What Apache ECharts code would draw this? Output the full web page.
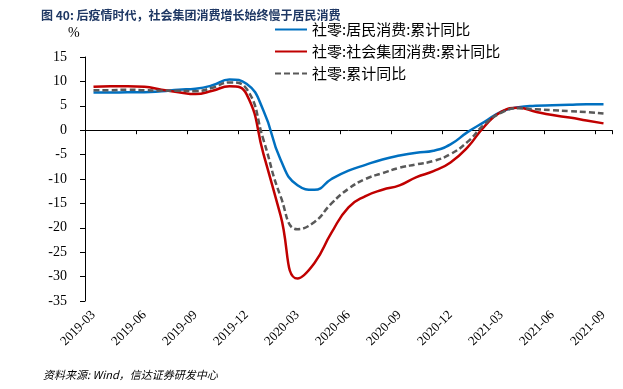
<!DOCTYPE html>
<html>
<head>
<meta charset="utf-8">
<script src="https://cdn.jsdelivr.net/npm/echarts@6/dist/echarts.min.js"></script>
<style>html,body{margin:0;padding:0;background:#fff;}#c{width:623px;height:389px;}</style>
</head>
<body>
<div id="c"></div>
<script>
const months = ['2019-03','2019-04','2019-05','2019-06','2019-07','2019-08','2019-09','2019-10','2019-11','2019-12',
  '2020-01','2020-02','2020-03','2020-04','2020-05','2020-06','2020-07','2020-08','2020-09','2020-10','2020-11','2020-12',
  '2021-01','2021-02','2021-03','2021-04','2021-05','2021-06','2021-07','2021-08','2021-09'];
const resident = [7.7,7.7,7.8,7.8,8.0,8.3,8.5,9.2,10.4,9.5,
  4.0,-6.0,-11.3,-12.2,-10.0,-8.3,-7.1,-6.0,-5.2,-4.6,-4.2,-2.9,
  -0.4,1.7,3.8,4.7,5.0,5.1,5.2,5.3,5.3];
const group = [8.9,9.0,9.0,8.9,8.3,7.8,7.4,8.1,9.0,7.4,
  -4.9,-17.4,-30.4,-27.2,-21.0,-15.8,-13.5,-12.2,-11.3,-9.6,-8.4,-6.6,
  -3.5,0.8,3.8,4.6,3.8,3.1,2.6,2.0,1.4];
const total = [8.2,8.2,8.3,8.2,8.1,8.1,8.0,8.7,9.8,8.5,
  -2.0,-13.5,-20.3,-18.8,-15.0,-12.0,-10.0,-8.8,-7.7,-7.0,-6.3,-4.9,
  -2.4,1.2,3.6,4.5,4.3,4.1,3.9,3.7,3.4];
const seriesNames = ['社零:居民消费:累计同比','社零:社会集团消费:累计同比','社零:累计同比'];

const chart = echarts.init(document.getElementById('c'), null, {renderer:'canvas'});
const serif = 'Liberation Serif, Times New Roman, serif';
const cjk = 'Noto Sans CJK SC, sans-serif';
chart.setOption({
  animation: false,
  backgroundColor: '#fff',
  title: {
    text: '图 40: 后疫情时代，社会集团消费增长始终慢于居民消费',
    left: 36, top: 4,
    textStyle: {fontFamily: cjk, fontSize: 12, fontWeight: 'bold', color: '#1F3864'}
  },
  graphic: [
    {type:'text', left: 68, top: 26, style:{text:'%', font:'14px ' + serif, fill:'#000'}},
    {type:'text', left: 43, top: 369, style:{text:'资料来源: Wind，信达证券研发中心', font:'italic 11px ' + cjk, fill:'#000'}}
  ],
  legend: {
    orient: 'vertical', left: 274, top: 22, padding: 0, itemWidth: 32, itemHeight: 14, itemGap: 7,
    itemStyle: {opacity: 0},
    textStyle: {fontFamily: cjk, fontSize: 15, color: '#000', lineHeight: 14},
    data: seriesNames
  },
  grid: {left: 85, right: 11, top: 57, bottom: 88},
  xAxis: [
    {type:'category', data: months, boundaryGap: true, position:'bottom',
     axisLine:{show:false, onZero:false}, axisTick:{show:false},
     axisLabel:{interval:2, rotate:45, margin:12, fontFamily: serif, fontSize:13, color:'#000'}},
    {type:'category', data: months, boundaryGap: true, position:'bottom',
     axisLine:{show:true, onZero:true, lineStyle:{color:'#000', width:1}},
     axisTick:{show:true, interval:2, length:4, lineStyle:{color:'#000'}},
     axisLabel:{show:false}}
  ],
  yAxis: {
    type:'value', min:-35, max:15, interval:5,
    axisLine:{show:true, lineStyle:{color:'#000', width:1}},
    axisTick:{show:true, length:5, lineStyle:{color:'#000'}},
    splitLine:{show:false},
    axisLabel:{margin:18, fontFamily: serif, fontSize:14, color:'#000'}
  },
  series: [
    {name: seriesNames[0], type:'line', data: resident, smooth:true, symbol:'none', xAxisIndex:0,
     itemStyle:{color:'#0070C0'}, lineStyle:{color:'#0070C0', width:2.5}, z:3},
    {name: seriesNames[1], type:'line', data: group, smooth:true, symbol:'none', xAxisIndex:0,
     itemStyle:{color:'#C00000'}, lineStyle:{color:'#C00000', width:2.5}, z:3},
    {name: seriesNames[2], type:'line', data: total, smooth:true, symbol:'none', xAxisIndex:0,
     itemStyle:{color:'#595959'}, lineStyle:{color:'#595959', width:2.5, type:[6,3]}, z:4}
  ]
});
</script>
</body>
</html>
